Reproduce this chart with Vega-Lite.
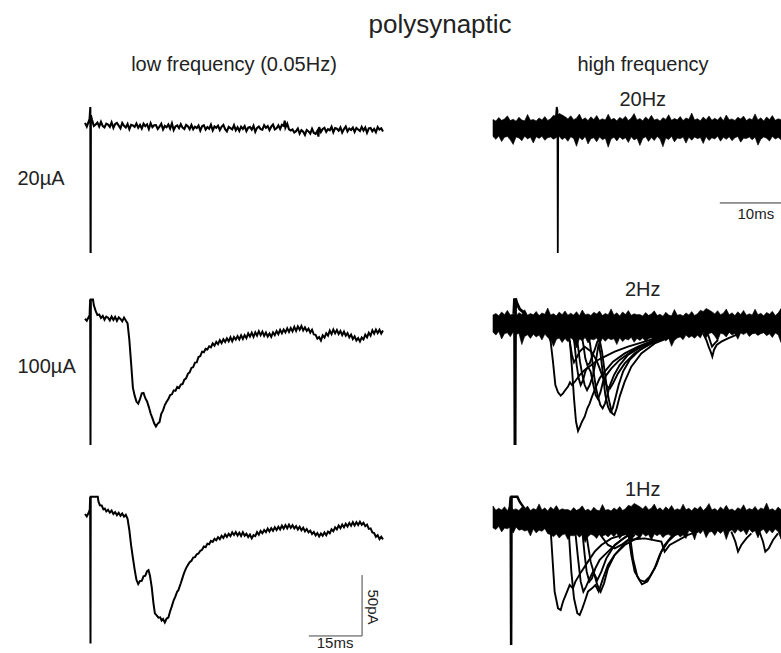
{
"$schema": "https://vega.github.io/schema/vega-lite/v6.json",
"padding": {"left": 17, "top": 12, "right": 0, "bottom": 2},
"background": "white",
"title": {"text": "polysynaptic", "anchor": "middle", "frame": "group", "offset": 17, "dx": 355, "fontSize": 26, "fontWeight": "normal", "font": "Liberation Sans", "color": "#222"},
"config": {"view": {"stroke": null}, "font": "Liberation Sans", "text": {"font": "Liberation Sans"}},
"columns": 2,
"spacing": {"row": 22, "column": 110},
"bounds": "flush",
"align": "each",
"datasets": {
"L1": [{"t":0,"v":5.7},{"t":0.5,"v":2.7},{"t":1.0,"v":6.6},{"t":1.3,"v":9},{"t":1.5,"v":18.8},{"t":1.58,"v":-101.1},{"t":1.65,"v":12},{"t":2.0,"v":8},{"t":2.5,"v":3.2},{"t":3.0,"v":4.4},{"t":3.5,"v":5.9},{"t":4.0,"v":2.8},{"t":4.5,"v":6.6},{"t":5.0,"v":3.1},{"t":5.5,"v":2.0},{"t":6.0,"v":5.1},{"t":6.5,"v":4.3},{"t":7.0,"v":2.4},{"t":7.5,"v":6.2},{"t":8.0,"v":1.6},{"t":8.5,"v":4.8},{"t":9.0,"v":5.7},{"t":9.5,"v":3.5},{"t":10.0,"v":1.3},{"t":10.5,"v":5.6},{"t":11.0,"v":3.3},{"t":11.5,"v":1.9},{"t":12.0,"v":4.8},{"t":12.5,"v":0.5},{"t":13.0,"v":4.2},{"t":13.5,"v":3.7},{"t":14.0,"v":2.4},{"t":14.5,"v":5.2},{"t":15.0,"v":1.7},{"t":15.5,"v":4.1},{"t":16.0,"v":1.1},{"t":16.5,"v":5.0},{"t":17.0,"v":3.0},{"t":17.5,"v":4.5},{"t":18.0,"v":0.7},{"t":18.5,"v":5.5},{"t":19.0,"v":2.2},{"t":19.5,"v":3.8},{"t":20.0,"v":3.9},{"t":20.5,"v":0.8},{"t":21.0,"v":2.7},{"t":21.5,"v":5.0},{"t":22.0,"v":0.3},{"t":22.5,"v":3.2},{"t":23.0,"v":2.1},{"t":23.5,"v":4.4},{"t":24.0,"v":1.1},{"t":24.5,"v":5.3},{"t":25.0,"v":-0.1},{"t":25.5,"v":2.8},{"t":26.0,"v":3.7},{"t":26.5,"v":1.4},{"t":27.0,"v":4.6},{"t":27.5,"v":1.8},{"t":28.0,"v":0.7},{"t":28.5,"v":4.0},{"t":29.0,"v":2.9},{"t":29.5,"v":0.5},{"t":30.0,"v":4.0},{"t":30.5,"v":0.5},{"t":31.0,"v":2.6},{"t":31.5,"v":1.5},{"t":32.0,"v":3.5},{"t":32.5,"v":-0.6},{"t":33.0,"v":2.9},{"t":33.5,"v":3.8},{"t":34.0,"v":0.2},{"t":34.5,"v":2.3},{"t":35.0,"v":0.9},{"t":35.5,"v":4.2},{"t":36.0,"v":-0.4},{"t":36.5,"v":2.8},{"t":37.0,"v":1.7},{"t":37.5,"v":3.4},{"t":38.0,"v":-0.1},{"t":38.5,"v":2.5},{"t":39.0,"v":4.1},{"t":39.5,"v":0.6},{"t":40.0,"v":-1.3},{"t":40.5,"v":2.5},{"t":41.0,"v":1.4},{"t":41.5,"v":0.4},{"t":42.0,"v":3.8},{"t":42.5,"v":-0.3},{"t":43.0,"v":2.1},{"t":43.5,"v":-0.9},{"t":44.0,"v":2.6},{"t":44.5,"v":0.8},{"t":45.0,"v":3.0},{"t":45.5,"v":-1.1},{"t":46.0,"v":1.8},{"t":46.5,"v":2.3},{"t":47.0,"v":0.2},{"t":47.5,"v":3.4},{"t":48.0,"v":-1.6},{"t":48.5,"v":1.6},{"t":49.0,"v":2.7},{"t":49.5,"v":0.6},{"t":50.0,"v":0.1},{"t":50.5,"v":3.8},{"t":51.0,"v":1.6},{"t":51.5,"v":3.1},{"t":52.0,"v":-0.2},{"t":52.5,"v":2.6},{"t":53.0,"v":4.3},{"t":53.5,"v":0.4},{"t":54.0,"v":1.3},{"t":54.5,"v":3.7},{"t":55.0,"v":0.8},{"t":55.5,"v":4.2},{"t":56.0,"v":3.3},{"t":56.3,"v":7.5},{"t":56.5,"v":1.9},{"t":57.0,"v":5.1},{"t":57.5,"v":0.4},{"t":58.0,"v":-0.5},{"t":58.5,"v":0.4},{"t":59.0,"v":-2.1},{"t":59.5,"v":-1.1},{"t":60.0,"v":1.1},{"t":60.5,"v":-3.0},{"t":61.0,"v":-0.2},{"t":61.5,"v":-1.5},{"t":62.0,"v":-4.2},{"t":62.5,"v":-0.1},{"t":63.0,"v":-1.3},{"t":63.5,"v":-3.1},{"t":64.0,"v":0.9},{"t":64.5,"v":-2.5},{"t":65.0,"v":-3.3},{"t":65.5,"v":-0.9},{"t":65.8,"v":-5.5},{"t":66.0,"v":2.3},{"t":66.5,"v":-1.8},{"t":67.0,"v":0.7},{"t":67.5,"v":1.7},{"t":68.0,"v":-1.6},{"t":68.5,"v":0.5},{"t":69.0,"v":-0.3},{"t":69.5,"v":2.5},{"t":70.0,"v":-2.0},{"t":70.5,"v":1.4},{"t":71.0,"v":0.9},{"t":71.5,"v":-0.7},{"t":72.0,"v":2.1},{"t":72.5,"v":-2.2},{"t":73.0,"v":0.6},{"t":73.5,"v":2.7},{"t":74.0,"v":-1.3},{"t":74.5,"v":1.1},{"t":75.0,"v":-0.1},{"t":75.5,"v":1.8},{"t":76.0,"v":-1.7},{"t":76.5,"v":1.5},{"t":77.0,"v":0.3},{"t":77.5,"v":-0.9},{"t":78.0,"v":2.4},{"t":78.5,"v":-0.5},{"t":79.0,"v":1.9},{"t":79.5,"v":-2.4},{"t":80.0,"v":1.2},{"t":80.5,"v":1.6},{"t":81.0,"v":-1.1},{"t":81.5,"v":0.8},{"t":82.0,"v":-1.9},{"t":82.5,"v":2.3},{"t":83.0,"v":0.2},{"t":83.5,"v":1.3},{"t":84.0,"v":-1.4}],
"L2": [{"t":0,"v":5.0},{"t":0.5,"v":3.4},{"t":1.0,"v":6.3},{"t":1.3,"v":8},{"t":1.45,"v":20.9},{"t":1.55,"v":-98.6},{"t":1.65,"v":20.9},{"t":2.25,"v":20.9},{"t":2.5,"v":16},{"t":3.0,"v":11.5},{"t":3.5,"v":8.0},{"t":4.0,"v":8.5},{"t":4.5,"v":5.6},{"t":5.0,"v":7.4},{"t":5.5,"v":4.2},{"t":6.0,"v":6.8},{"t":6.5,"v":5.9},{"t":7.0,"v":3.6},{"t":7.5,"v":6.9},{"t":8.0,"v":4.1},{"t":8.5,"v":6.5},{"t":9.0,"v":3.3},{"t":9.5,"v":6.2},{"t":10.0,"v":4.8},{"t":10.5,"v":2.9},{"t":11.0,"v":6.0},{"t":11.5,"v":3.5},{"t":12.0,"v":1.2},{"t":12.5,"v":-12.4},{"t":13.0,"v":-31.6},{"t":13.5,"v":-51.5},{"t":14.0,"v":-58.1},{"t":14.5,"v":-63.0},{"t":15.0,"v":-64.6},{"t":15.5,"v":-61.0},{"t":16.0,"v":-56.2},{"t":16.5,"v":-55.8},{"t":17.0,"v":-60.2},{"t":17.5,"v":-62.9},{"t":18.0,"v":-67.5},{"t":18.5,"v":-72.8},{"t":19.0,"v":-76.5},{"t":19.5,"v":-80.8},{"t":20.0,"v":-83.4},{"t":20.5,"v":-81.0},{"t":21.0,"v":-79.8},{"t":21.5,"v":-73.0},{"t":22.0,"v":-70.2},{"t":22.5,"v":-65.8},{"t":23.0,"v":-63.1},{"t":23.5,"v":-60.9},{"t":24.0,"v":-57.6},{"t":24.5,"v":-57.0},{"t":25.0,"v":-53.8},{"t":25.5,"v":-54.2},{"t":26.0,"v":-51.0},{"t":26.5,"v":-51.9},{"t":27.0,"v":-49.0},{"t":27.5,"v":-48.6},{"t":28.0,"v":-45.0},{"t":28.5,"v":-43.9},{"t":29.0,"v":-40.2},{"t":29.5,"v":-39.0},{"t":30.0,"v":-35.4},{"t":30.5,"v":-34.6},{"t":31.0,"v":-31.0},{"t":31.5,"v":-30.8},{"t":32.0,"v":-26.4},{"t":32.5,"v":-25.6},{"t":33.0,"v":-22.0},{"t":33.5,"v":-22.5},{"t":34.0,"v":-19.6},{"t":34.5,"v":-20.2},{"t":35.0,"v":-17.6},{"t":35.5,"v":-18.4},{"t":36.0,"v":-15.2},{"t":36.5,"v":-17.0},{"t":37.0,"v":-13.9},{"t":37.5,"v":-15.8},{"t":38.0,"v":-12.6},{"t":38.5,"v":-15.0},{"t":39.0,"v":-11.8},{"t":39.5,"v":-14.0},{"t":40.0,"v":-11.0},{"t":40.5,"v":-13.5},{"t":41.0,"v":-10.2},{"t":41.5,"v":-13.4},{"t":42.0,"v":-10.0},{"t":42.5,"v":-12.1},{"t":43.0,"v":-9.2},{"t":43.5,"v":-11.9},{"t":44.0,"v":-8.6},{"t":44.5,"v":-11.5},{"t":45.0,"v":-8.4},{"t":45.5,"v":-10.9},{"t":46.0,"v":-7.0},{"t":46.5,"v":-9.6},{"t":47.0,"v":-6.4},{"t":47.5,"v":-9.9},{"t":48.0,"v":-6.1},{"t":48.5,"v":-8.8},{"t":49.0,"v":-5.2},{"t":49.5,"v":-8.4},{"t":50.0,"v":-5.5},{"t":50.5,"v":-9.0},{"t":51.0,"v":-6.3},{"t":51.5,"v":-9.6},{"t":52.0,"v":-7.1},{"t":52.5,"v":-9.8},{"t":53.0,"v":-6.2},{"t":53.5,"v":-8.4},{"t":54.0,"v":-5.0},{"t":54.5,"v":-7.6},{"t":55.0,"v":-4.1},{"t":55.5,"v":-6.9},{"t":56.0,"v":-3.8},{"t":56.5,"v":-6.1},{"t":57.0,"v":-2.9},{"t":57.5,"v":-5.8},{"t":58.0,"v":-2.6},{"t":58.5,"v":-5.4},{"t":59.0,"v":-1.7},{"t":59.5,"v":-4.9},{"t":60.0,"v":-1.2},{"t":60.5,"v":-4.0},{"t":61.0,"v":-0.9},{"t":61.5,"v":-4.6},{"t":62.0,"v":-2.0},{"t":62.5,"v":-5.0},{"t":63.0,"v":-3.1},{"t":63.5,"v":-6.3},{"t":64.0,"v":-4.0},{"t":64.5,"v":-7.9},{"t":65.0,"v":-8.2},{"t":65.5,"v":-11.3},{"t":66.0,"v":-10.1},{"t":66.5,"v":-12.9},{"t":67.0,"v":-8.6},{"t":67.5,"v":-10.4},{"t":68.0,"v":-6.9},{"t":68.5,"v":-8.8},{"t":69.0,"v":-4.7},{"t":69.5,"v":-7.6},{"t":70.0,"v":-3.9},{"t":70.5,"v":-7.0},{"t":71.0,"v":-4.3},{"t":71.5,"v":-7.5},{"t":72.0,"v":-5.0},{"t":72.5,"v":-8.4},{"t":73.0,"v":-5.6},{"t":73.5,"v":-8.9},{"t":74.0,"v":-6.8},{"t":74.5,"v":-10.2},{"t":75.0,"v":-8.0},{"t":75.5,"v":-11.6},{"t":76.0,"v":-9.4},{"t":76.5,"v":-12.8},{"t":77.0,"v":-10.9},{"t":77.5,"v":-13.6},{"t":78.0,"v":-10.4},{"t":78.5,"v":-12.0},{"t":79.0,"v":-8.1},{"t":79.5,"v":-10.3},{"t":80.0,"v":-6.5},{"t":80.5,"v":-8.9},{"t":81.0,"v":-4.4},{"t":81.5,"v":-7.2},{"t":82.0,"v":-3.9},{"t":82.5,"v":-6.8},{"t":83.0,"v":-4.0},{"t":83.5,"v":-7.1},{"t":84.0,"v":-4.6}],
"L3": [{"t":0,"v":4.8},{"t":0.5,"v":2.9},{"t":1.0,"v":5.6},{"t":1.35,"v":8.5},{"t":1.45,"v":19.0},{"t":1.55,"v":-101.4},{"t":1.62,"v":19.0},{"t":2.5,"v":19.0},{"t":3.6,"v":19.0},{"t":3.8,"v":14.9},{"t":4.2,"v":12.0},{"t":4.7,"v":11.8},{"t":5.2,"v":8.6},{"t":5.6,"v":9.2},{"t":6.0,"v":6.9},{"t":6.5,"v":8.3},{"t":7.0,"v":5.9},{"t":7.5,"v":7.6},{"t":8.0,"v":4.8},{"t":8.5,"v":6.4},{"t":9.0,"v":3.9},{"t":9.5,"v":5.8},{"t":10.0,"v":3.4},{"t":10.5,"v":5.2},{"t":11.0,"v":2.6},{"t":11.5,"v":4.1},{"t":12.0,"v":0.9},{"t":12.5,"v":-8.5},{"t":13.0,"v":-21.0},{"t":13.5,"v":-31.2},{"t":14.0,"v":-40.8},{"t":14.5,"v":-49.2},{"t":15.0,"v":-52.6},{"t":15.5,"v":-50.1},{"t":16.0,"v":-50.0},{"t":16.5,"v":-46.3},{"t":17.0,"v":-45.8},{"t":17.5,"v":-42.0},{"t":17.9,"v":-41.2},{"t":18.3,"v":-45.6},{"t":18.8,"v":-55.0},{"t":19.3,"v":-68.5},{"t":19.7,"v":-76.8},{"t":20.2,"v":-78.4},{"t":20.7,"v":-80.3},{"t":21.2,"v":-80.0},{"t":21.6,"v":-82.6},{"t":22.0,"v":-81.4},{"t":22.5,"v":-84.2},{"t":23.0,"v":-81.0},{"t":23.5,"v":-80.2},{"t":24.0,"v":-75.0},{"t":24.4,"v":-71.6},{"t":25.0,"v":-66.0},{"t":25.4,"v":-63.4},{"t":26.0,"v":-58.8},{"t":26.3,"v":-57.9},{"t":27.0,"v":-52.0},{"t":27.5,"v":-47.4},{"t":28.0,"v":-43.0},{"t":28.5,"v":-39.6},{"t":29.0,"v":-37.1},{"t":29.5,"v":-34.8},{"t":30.0,"v":-33.6},{"t":30.5,"v":-31.0},{"t":31.0,"v":-30.6},{"t":31.5,"v":-28.2},{"t":32.0,"v":-27.6},{"t":32.5,"v":-25.4},{"t":33.0,"v":-24.6},{"t":33.5,"v":-21.8},{"t":34.0,"v":-22.4},{"t":34.5,"v":-19.5},{"t":35.0,"v":-20.0},{"t":35.5,"v":-17.2},{"t":36.0,"v":-18.0},{"t":36.5,"v":-15.6},{"t":37.0,"v":-16.8},{"t":37.5,"v":-14.2},{"t":38.0,"v":-15.9},{"t":38.5,"v":-13.1},{"t":39.0,"v":-14.8},{"t":39.5,"v":-11.9},{"t":40.0,"v":-14.0},{"t":40.5,"v":-11.5},{"t":41.0,"v":-13.4},{"t":41.5,"v":-10.2},{"t":42.0,"v":-12.4},{"t":42.5,"v":-10.0},{"t":43.0,"v":-12.8},{"t":43.5,"v":-10.6},{"t":44.0,"v":-13.2},{"t":44.5,"v":-10.1},{"t":45.0,"v":-13.0},{"t":45.5,"v":-11.4},{"t":46.0,"v":-14.1},{"t":46.5,"v":-12.0},{"t":47.0,"v":-15.2},{"t":47.5,"v":-12.6},{"t":48.0,"v":-13.4},{"t":48.5,"v":-10.0},{"t":49.0,"v":-12.2},{"t":49.5,"v":-9.1},{"t":50.0,"v":-11.0},{"t":50.5,"v":-8.3},{"t":51.0,"v":-10.1},{"t":51.5,"v":-7.2},{"t":52.0,"v":-9.6},{"t":52.5,"v":-6.8},{"t":53.0,"v":-9.0},{"t":53.5,"v":-6.1},{"t":54.0,"v":-8.4},{"t":54.5,"v":-5.6},{"t":55.0,"v":-7.9},{"t":55.5,"v":-4.8},{"t":56.0,"v":-7.2},{"t":56.5,"v":-4.3},{"t":57.0,"v":-6.9},{"t":57.5,"v":-4.0},{"t":58.0,"v":-6.6},{"t":58.5,"v":-4.4},{"t":59.0,"v":-7.0},{"t":59.5,"v":-5.1},{"t":60.0,"v":-7.9},{"t":60.5,"v":-5.6},{"t":61.0,"v":-8.6},{"t":61.5,"v":-6.4},{"t":62.0,"v":-9.4},{"t":62.5,"v":-7.5},{"t":63.0,"v":-10.3},{"t":63.5,"v":-8.8},{"t":64.0,"v":-11.6},{"t":64.5,"v":-10.0},{"t":65.0,"v":-12.8},{"t":65.5,"v":-10.9},{"t":66.0,"v":-13.6},{"t":66.5,"v":-11.2},{"t":67.0,"v":-13.0},{"t":67.5,"v":-10.4},{"t":68.0,"v":-12.6},{"t":68.5,"v":-9.6},{"t":69.0,"v":-11.0},{"t":69.5,"v":-7.8},{"t":70.0,"v":-9.4},{"t":70.5,"v":-6.2},{"t":71.0,"v":-7.9},{"t":71.5,"v":-4.6},{"t":72.0,"v":-6.8},{"t":72.5,"v":-3.9},{"t":73.0,"v":-6.1},{"t":73.5,"v":-3.2},{"t":74.0,"v":-5.4},{"t":74.5,"v":-2.5},{"t":75.0,"v":-4.8},{"t":75.5,"v":-1.9},{"t":76.0,"v":-4.6},{"t":76.5,"v":-2.0},{"t":77.0,"v":-4.3},{"t":77.5,"v":-1.6},{"t":78.0,"v":-4.0},{"t":78.5,"v":-2.4},{"t":79.0,"v":-5.2},{"t":79.5,"v":-3.9},{"t":80.0,"v":-7.4},{"t":80.5,"v":-7.0},{"t":81.0,"v":-10.3},{"t":81.5,"v":-10.8},{"t":82.0,"v":-13.9},{"t":82.5,"v":-12.6},{"t":83.0,"v":-15.8},{"t":83.5,"v":-13.9},{"t":84.0,"v":-16.0}],
"band": [{"t":0,"h1":8.5,"l1":-5.5,"h2":8.1,"l2":-6.0,"h3":11.4,"l3":-6.6},{"t":0.4,"h1":7.2,"l1":-7.8,"h2":9.3,"l2":-8.4,"h3":7.9,"l3":-8.0},{"t":0.8,"h1":10.1,"l1":-5.0,"h2":7.5,"l2":-5.4,"h3":9.6,"l3":-5.3},{"t":1.2,"h1":7.8,"l1":-9.6,"h2":10.6,"l2":-11.6,"h3":8.0,"l3":-9.9},{"t":1.6,"h1":9.0,"l1":-6.1,"h2":8.4,"l2":-7.2,"h3":10.8,"l3":-6.7},{"t":2.0,"h1":11.5,"l1":-5.4,"h2":11.9,"l2":-6.5,"h3":7.5,"l3":-7.3},{"t":2.4,"h1":7.6,"l1":-8.2,"h2":8.0,"l2":-9.8,"h3":12.2,"l3":-5.8},{"t":2.8,"h1":8.8,"l1":-12.0,"h2":9.0,"l2":-5.9,"h3":8.4,"l3":-10.9},{"t":3.2,"h1":7.1,"l1":-5.8,"h2":7.2,"l2":-8.1,"h3":9.0,"l3":-6.0},{"t":3.6,"h1":10.4,"l1":-6.6,"h2":10.0,"l2":-6.8,"h3":7.7,"l3":-8.5},{"t":4.0,"h1":8.0,"l1":-9.0,"h2":8.6,"l2":-16.2,"h3":10.3,"l3":-7.9},{"t":4.4,"h1":7.4,"l1":-5.2,"h2":12.4,"l2":-9.5,"h3":8.9,"l3":-9.2},{"t":4.8,"h1":12.6,"l1":-7.4,"h2":7.8,"l2":-8.1,"h3":11.3,"l3":-8.3},{"t":5.2,"h1":7.9,"l1":-6.0,"h2":9.4,"l2":-11.1,"h3":7.6,"l3":-13.2},{"t":5.6,"h1":8.6,"l1":-10.8,"h2":8.2,"l2":-7.8,"h3":9.4,"l3":-7.6},{"t":6.0,"h1":7.3,"l1":-5.6,"h2":11.0,"l2":-9.9,"h3":8.2,"l3":-10.7},{"t":6.4,"h1":9.8,"l1":-7.0,"h2":7.6,"l2":-8.4,"h3":13.1,"l3":-8.5},{"t":6.8,"h1":8.1,"l1":-5.3,"h2":9.8,"l2":-12.4,"h3":8.0,"l3":-9.4},{"t":7.2,"h1":10.9,"l1":-8.6,"h2":8.7,"l2":-7.6,"h3":9.9,"l3":-7.2},{"t":7.6,"h1":7.7,"l1":-6.4,"h2":13.8,"l2":-10.3,"h3":7.3,"l3":-11.3},{"t":8.0,"h1":9.2,"l1":-5.9,"h2":8.1,"l2":-11.9,"h3":10.6,"l3":-12.1},{"t":8.4,"h1":12.0,"l1":-7.7,"h2":9.2,"l2":-17.8,"h3":8.5,"l3":-13.8},{"t":8.8,"h1":11.0,"l1":-6.2,"h2":7.4,"l2":-12.0,"h3":11.7,"l3":-11.7},{"t":9.2,"h1":13.5,"l1":-5.5,"h2":10.5,"l2":-10.7,"h3":7.8,"l3":-14.9},{"t":9.6,"h1":12.2,"l1":-8.0,"h2":8.3,"l2":-14.5,"h3":9.1,"l3":-12.4},{"t":10.0,"h1":10.8,"l1":-6.3,"h2":11.4,"l2":-11.2,"h3":8.4,"l3":-11.5},{"t":10.4,"h1":9.0,"l1":-9.4,"h2":7.9,"l2":-13.8,"h3":8.5,"l3":-16.1},{"t":10.8,"h1":11.6,"l1":-5.7,"h2":9.6,"l2":-10.5,"h3":7.2,"l3":-12.8},{"t":11.2,"h1":8.4,"l1":-7.1,"h2":8.0,"l2":-12.6,"h3":10.1,"l3":-13.1},{"t":11.6,"h1":9.6,"l1":-13.5,"h2":10.8,"l2":-18.9,"h3":7.8,"l3":-11.9},{"t":12.0,"h1":13.0,"l1":-6.0,"h2":7.5,"l2":-11.6,"h3":9.0,"l3":-14.2},{"t":12.4,"h1":8.2,"l1":-8.4,"h2":12.2,"l2":-13.0,"h3":11.5,"l3":-12.0},{"t":12.8,"h1":9.9,"l1":-5.4,"h2":8.4,"l2":-10.3,"h3":7.6,"l3":-18.6},{"t":13.2,"h1":7.6,"l1":-11.6,"h2":9.0,"l2":-14.9,"h3":8.8,"l3":-13.7},{"t":13.6,"h1":10.7,"l1":-7.2,"h2":7.7,"l2":-11.7,"h3":7.1,"l3":-11.8},{"t":14.0,"h1":8.5,"l1":-6.5,"h2":10.3,"l2":-12.3,"h3":10.4,"l3":-12.9},{"t":14.4,"h1":11.8,"l1":-9.8,"h2":8.9,"l2":-10.8,"h3":8.0,"l3":-15.2},{"t":14.8,"h1":7.9,"l1":-5.9,"h2":11.3,"l2":-15.9,"h3":7.4,"l3":-11.4},{"t":15.2,"h1":9.1,"l1":-8.1,"h2":7.6,"l2":-11.0,"h3":12.6,"l3":-13.5},{"t":15.6,"h1":8.0,"l1":-6.8,"h2":9.4,"l2":-13.5,"h3":7.9,"l3":-12.2},{"t":16.0,"h1":12.9,"l1":-14.2,"h2":8.2,"l2":-10.9,"h3":8.6,"l3":-14.0},{"t":16.4,"h1":8.3,"l1":-7.5,"h2":13.1,"l2":-12.2,"h3":7.3,"l3":-11.5},{"t":16.8,"h1":9.5,"l1":-6.1,"h2":8.0,"l2":-11.3,"h3":9.8,"l3":-13.8},{"t":17.2,"h1":7.4,"l1":-9.1,"h2":9.9,"l2":-16.2,"h3":8.1,"l3":-11.0},{"t":17.6,"h1":10.2,"l1":-5.8,"h2":7.3,"l2":-10.6,"h3":10.9,"l3":-15.6},{"t":18.0,"h1":8.8,"l1":-7.9,"h2":10.6,"l2":-13.7,"h3":7.7,"l3":-12.1},{"t":18.4,"h1":11.1,"l1":-6.4,"h2":8.5,"l2":-11.5,"h3":9.2,"l3":-11.4},{"t":18.8,"h1":7.7,"l1":-10.4,"h2":11.7,"l2":-12.4,"h3":12.0,"l3":-14.2},{"t":19.2,"h1":9.7,"l1":-5.6,"h2":7.8,"l2":-10.2,"h3":11.0,"l3":-18.0},{"t":19.6,"h1":13.4,"l1":-8.3,"h2":9.1,"l2":-14.3,"h3":13.5,"l3":-11.8},{"t":20.0,"h1":8.1,"l1":-6.9,"h2":8.4,"l2":-11.1,"h3":12.2,"l3":-12.6},{"t":20.4,"h1":9.3,"l1":-12.8,"h2":8.5,"l2":-12.8,"h3":10.8,"l3":-15.0},{"t":20.8,"h1":7.5,"l1":-7.0,"h2":7.2,"l2":-10.7,"h3":9.0,"l3":-11.2},{"t":21.2,"h1":10.6,"l1":-5.7,"h2":10.1,"l2":-13.9,"h3":11.6,"l3":-13.4},{"t":21.6,"h1":8.4,"l1":-9.5,"h2":7.8,"l2":-11.4,"h3":8.4,"l3":-12.0},{"t":22.0,"h1":11.9,"l1":-6.2,"h2":9.0,"l2":-10.5,"h3":9.6,"l3":-16.8},{"t":22.4,"h1":8.0,"l1":-8.8,"h2":11.5,"l2":-15.1,"h3":13.0,"l3":-11.6},{"t":22.8,"h1":9.0,"l1":-5.5,"h2":7.6,"l2":-11.8,"h3":8.2,"l3":-13.0},{"t":23.2,"h1":7.2,"l1":-7.6,"h2":8.8,"l2":-12.1,"h3":9.9,"l3":-11.3},{"t":23.6,"h1":10.0,"l1":-13.9,"h2":7.1,"l2":-10.9,"h3":7.6,"l3":-14.6},{"t":24.0,"h1":8.6,"l1":-6.6,"h2":10.4,"l2":-13.2,"h3":10.7,"l3":-12.4},{"t":24.4,"h1":12.4,"l1":-8.0,"h2":8.0,"l2":-11.0,"h3":8.5,"l3":-11.9},{"t":24.8,"h1":7.8,"l1":-5.3,"h2":7.4,"l2":-17.6,"h3":11.8,"l3":-13.7},{"t":25.2,"h1":9.4,"l1":-9.9,"h2":12.6,"l2":-12.7,"h3":7.9,"l3":-12.2},{"t":25.6,"h1":8.2,"l1":-6.7,"h2":7.9,"l2":-10.8,"h3":9.1,"l3":-11.5},{"t":26.0,"h1":11.0,"l1":-7.3,"h2":8.6,"l2":-9.9,"h3":8.0,"l3":-14.0},{"t":26.4,"h1":7.6,"l1":-5.8,"h2":7.3,"l2":-12.2,"h3":12.9,"l3":-12.3},{"t":26.8,"h1":9.8,"l1":-10.9,"h2":9.8,"l2":-8.4,"h3":8.3,"l3":-15.4},{"t":27.2,"h1":8.7,"l1":-6.0,"h2":8.1,"l2":-10.5,"h3":9.5,"l3":-8.7},{"t":27.6,"h1":13.8,"l1":-8.5,"h2":10.9,"l2":-9.2,"h3":7.4,"l3":-10.1},{"t":28.0,"h1":8.1,"l1":-5.9,"h2":7.7,"l2":-11.0,"h3":10.2,"l3":-16.5},{"t":28.4,"h1":9.2,"l1":-7.2,"h2":9.2,"l2":-8.5,"h3":8.8,"l3":-9.0},{"t":28.8,"h1":7.4,"l1":-6.3,"h2":12.0,"l2":-10.8,"h3":11.1,"l3":-11.4},{"t":29.2,"h1":10.5,"l1":-11.2,"h2":11.0,"l2":-6.0,"h3":7.7,"l3":-8.4},{"t":29.6,"h1":8.3,"l1":-5.6,"h2":13.5,"l2":-10.6,"h3":9.7,"l3":-14.6},{"t":30.0,"h1":11.4,"l1":-8.7,"h2":12.2,"l2":-7.1,"h3":13.4,"l3":-10.2},{"t":30.4,"h1":7.9,"l1":-6.5,"h2":10.8,"l2":-6.4,"h3":8.1,"l3":-9.5},{"t":30.8,"h1":9.6,"l1":-7.4,"h2":9.0,"l2":-9.2,"h3":9.3,"l3":-12.8},{"t":31.2,"h1":8.0,"l1":-5.2,"h2":11.6,"l2":-13.0,"h3":7.5,"l3":-8.9},{"t":31.6,"h1":10.8,"l1":-9.3,"h2":8.4,"l2":-6.8,"h3":10.6,"l3":-11.1},{"t":32.0,"h1":7.5,"l1":-6.1,"h2":9.6,"l2":-7.6,"h3":8.4,"l3":-8.8},{"t":32.4,"h1":12.2,"l1":-7.8,"h2":13.0,"l2":-10.0,"h3":11.9,"l3":-16.2},{"t":32.8,"h1":8.4,"l1":-5.7,"h2":8.2,"l2":-6.2,"h3":8.0,"l3":-9.5},{"t":33.2,"h1":9.0,"l1":-8.9,"h2":9.9,"l2":-8.4,"h3":9.0,"l3":-8.1},{"t":33.6,"h1":7.7,"l1":-6.4,"h2":7.6,"l2":-7.0,"h3":7.2,"l3":-11.1},{"t":34.0,"h1":10.3,"l1":-5.5,"h2":10.7,"l2":-11.8,"h3":10.0,"l3":-7.8},{"t":34.4,"h1":8.9,"l1":-10.1,"h2":8.5,"l2":-6.6,"h3":8.6,"l3":-9.9},{"t":34.8,"h1":11.3,"l1":-6.8,"h2":11.8,"l2":-8.0,"h3":12.4,"l3":-8.4},{"t":35.2,"h1":7.6,"l1":-7.1,"h2":7.9,"l2":-6.3,"h3":7.8,"l3":-12.4},{"t":35.6,"h1":9.4,"l1":-5.9,"h2":9.1,"l2":-9.6,"h3":9.4,"l3":-7.6},{"t":36.0,"h1":8.2,"l1":-8.2,"h2":8.0,"l2":-7.4,"h3":8.2,"l3":-10.3},{"t":36.4,"h1":13.1,"l1":-6.0,"h2":12.9,"l2":-6.9,"h3":11.0,"l3":-8.9},{"t":36.8,"h1":8.0,"l1":-12.6,"h2":8.3,"l2":-8.7,"h3":7.6,"l3":-14.8},{"t":37.2,"h1":9.9,"l1":-7.7,"h2":9.5,"l2":-7.2,"h3":9.8,"l3":-9.0},{"t":37.6,"h1":7.3,"l1":-5.8,"h2":7.4,"l2":-6.5,"h3":8.7,"l3":-7.7},{"t":38.0,"h1":10.6,"l1":-6.9,"h2":10.2,"l2":-9.0,"h3":13.8,"l3":-11.5},{"t":38.4,"h1":8.5,"l1":-9.2,"h2":8.8,"l2":-7.3,"h3":8.1,"l3":-8.2},{"t":38.8,"h1":11.7,"l1":-5.4,"h2":11.1,"l2":-10.4,"h3":9.2,"l3":-10.8},{"t":39.2,"h1":7.8,"l1":-7.5,"h2":7.7,"l2":-6.7,"h3":7.4,"l3":-7.5},{"t":39.6,"h1":9.1,"l1":-6.2,"h2":9.7,"l2":-8.1,"h3":10.5,"l3":-9.6},{"t":40.0,"h1":8.4,"l1":-8.0,"h2":13.4,"l2":-14.5,"h3":8.3,"l3":-15.9}],
"E2": [{"k":"a","t":7.64,"v":-7.0},{"k":"a","t":8.01,"v":-13.8},{"k":"a","t":8.33,"v":-30.2},{"k":"a","t":8.66,"v":-49.4},{"k":"a","t":9.03,"v":-55.4},{"k":"a","t":9.40,"v":-58.1},{"k":"a","t":9.72,"v":-56.2},{"k":"a","t":10.05,"v":-53.5},{"k":"a","t":10.42,"v":-50.7},{"k":"a","t":10.69,"v":-47.2},{"k":"a","t":10.97,"v":-49.4},{"k":"a","t":11.44,"v":-46.1},{"k":"a","t":12.04,"v":-41.2},{"k":"a","t":12.73,"v":-37.1},{"k":"a","t":13.66,"v":-33.0},{"k":"a","t":14.58,"v":-28.8},{"k":"a","t":15.51,"v":-26.1},{"k":"a","t":16.90,"v":-22.0},{"k":"a","t":18.75,"v":-17.9},{"k":"a","t":21.06,"v":-13.8},{"k":"a","t":23.38,"v":-9.7},{"k":"a","t":25.23,"v":-7.8},
{"k":"b","t":10.42,"v":-7.0},{"k":"b","t":10.69,"v":-13.8},{"k":"b","t":10.97,"v":-35.7},{"k":"b","t":11.25,"v":-60.3},{"k":"b","t":11.53,"v":-79.5},{"k":"b","t":11.81,"v":-87.1},{"k":"b","t":12.08,"v":-83.6},{"k":"b","t":12.36,"v":-79.5},{"k":"b","t":12.73,"v":-75.4},{"k":"b","t":13.10,"v":-68.5},{"k":"b","t":13.43,"v":-64.4},{"k":"b","t":13.75,"v":-58.9},{"k":"b","t":14.03,"v":-54.8},{"k":"b","t":14.40,"v":-49.4},{"k":"b","t":14.81,"v":-43.9},{"k":"b","t":15.51,"v":-38.4},{"k":"b","t":16.67,"v":-30.2},{"k":"b","t":18.29,"v":-23.4},{"k":"b","t":20.14,"v":-17.9},{"k":"b","t":22.45,"v":-12.4},{"k":"b","t":24.77,"v":-8.3},
{"k":"c","t":11.11,"v":-7.0},{"k":"c","t":11.34,"v":-16.5},{"k":"c","t":11.62,"v":-33.0},{"k":"c","t":11.90,"v":-43.9},{"k":"c","t":12.18,"v":-49.4},{"k":"c","t":12.50,"v":-45.3},{"k":"c","t":12.82,"v":-38.4},{"k":"c","t":13.19,"v":-34.3},{"k":"c","t":13.56,"v":-38.4},{"k":"c","t":13.94,"v":-49.4},{"k":"c","t":14.26,"v":-57.6},{"k":"c","t":14.58,"v":-60.9},{"k":"c","t":14.95,"v":-54.8},{"k":"c","t":15.28,"v":-46.6},{"k":"c","t":15.74,"v":-41.2},{"k":"c","t":16.44,"v":-35.7},{"k":"c","t":17.59,"v":-28.8},{"k":"c","t":19.21,"v":-22.0},{"k":"c","t":21.53,"v":-15.2},{"k":"c","t":23.84,"v":-9.7},
{"k":"d","t":11.57,"v":-7.0},{"k":"d","t":11.81,"v":-17.9},{"k":"d","t":12.08,"v":-30.2},{"k":"d","t":12.41,"v":-41.2},{"k":"d","t":12.73,"v":-49.4},{"k":"d","t":13.06,"v":-53.5},{"k":"d","t":13.43,"v":-49.4},{"k":"d","t":13.89,"v":-41.2},{"k":"d","t":14.35,"v":-27.5},{"k":"d","t":14.68,"v":-15.2},{"k":"d","t":14.95,"v":-24.7},{"k":"d","t":15.28,"v":-41.2},{"k":"d","t":15.60,"v":-57.6},{"k":"d","t":15.97,"v":-67.1},{"k":"d","t":16.30,"v":-71.3},{"k":"d","t":16.62,"v":-68.5},{"k":"d","t":16.99,"v":-60.3},{"k":"d","t":17.45,"v":-49.4},{"k":"d","t":18.06,"v":-38.4},{"k":"d","t":18.98,"v":-28.8},{"k":"d","t":20.37,"v":-20.6},{"k":"d","t":22.45,"v":-13.8},{"k":"d","t":24.77,"v":-9.7},
{"k":"e","t":12.27,"v":-7.0},{"k":"e","t":12.55,"v":-16.5},{"k":"e","t":12.82,"v":-27.5},{"k":"e","t":13.10,"v":-33.0},{"k":"e","t":13.43,"v":-31.6},{"k":"e","t":13.75,"v":-26.1},{"k":"e","t":14.12,"v":-20.6},{"k":"e","t":14.49,"v":-13.8},{"k":"e","t":14.81,"v":-12.4},{"k":"e","t":15.14,"v":-22.0},{"k":"e","t":15.51,"v":-38.4},{"k":"e","t":15.88,"v":-54.8},{"k":"e","t":16.20,"v":-64.4},{"k":"e","t":16.53,"v":-72.6},{"k":"e","t":16.85,"v":-74.0},{"k":"e","t":17.18,"v":-68.5},{"k":"e","t":17.59,"v":-58.9},{"k":"e","t":18.29,"v":-46.6},{"k":"e","t":19.21,"v":-34.3},{"k":"e","t":20.60,"v":-23.4},{"k":"e","t":22.45,"v":-15.2},{"k":"e","t":24.77,"v":-9.7},
{"k":"f","t":13.19,"v":-7.0},{"k":"f","t":13.47,"v":-15.2},{"k":"f","t":13.75,"v":-27.5},{"k":"f","t":14.03,"v":-41.2},{"k":"f","t":14.31,"v":-52.1},{"k":"f","t":14.58,"v":-58.9},{"k":"f","t":14.91,"v":-65.8},{"k":"f","t":15.23,"v":-68.5},{"k":"f","t":15.56,"v":-64.4},{"k":"f","t":15.88,"v":-57.6},{"k":"f","t":16.25,"v":-49.4},{"k":"f","t":16.81,"v":-41.2},{"k":"f","t":17.59,"v":-33.0},{"k":"f","t":18.75,"v":-24.7},{"k":"f","t":20.60,"v":-17.9},{"k":"f","t":22.92,"v":-12.4},{"k":"f","t":25.23,"v":-8.9},
{"k":"g","t":10.42,"v":-7.0},{"k":"g","t":10.69,"v":-15.2},{"k":"g","t":10.97,"v":-24.7},{"k":"g","t":11.25,"v":-30.8},{"k":"g","t":11.57,"v":-27.5},{"k":"g","t":12.04,"v":-22.0},{"k":"g","t":12.73,"v":-17.9},{"k":"g","t":13.66,"v":-22.0},{"k":"g","t":14.35,"v":-28.8},{"k":"g","t":14.81,"v":-35.7},{"k":"g","t":15.14,"v":-41.2},{"k":"g","t":15.51,"v":-46.6},{"k":"g","t":15.88,"v":-50.7},{"k":"g","t":16.25,"v":-52.1},{"k":"g","t":16.67,"v":-48.0},{"k":"g","t":17.36,"v":-39.8},{"k":"g","t":18.29,"v":-31.6},{"k":"g","t":19.68,"v":-23.4},{"k":"g","t":21.53,"v":-16.5},{"k":"g","t":23.84,"v":-11.1},
{"k":"h","t":29.17,"v":-7.0},{"k":"h","t":29.63,"v":-12.4},{"k":"h","t":29.95,"v":-17.9},{"k":"h","t":30.23,"v":-22.0},{"k":"h","t":30.46,"v":-26.1},{"k":"h","t":30.69,"v":-20.6},{"k":"h","t":31.06,"v":-16.5},{"k":"h","t":31.71,"v":-13.8},{"k":"h","t":32.64,"v":-11.1},{"k":"h","t":33.80,"v":-8.3},
{"k":"i","t":29.86,"v":-7.8},{"k":"i","t":30.19,"v":-13.8},{"k":"i","t":30.42,"v":-17.9},{"k":"i","t":30.79,"v":-15.2},{"k":"i","t":31.25,"v":-12.4}],
"E3": [{"k":"a","t":8.01,"v":-8.3},{"k":"a","t":8.56,"v":-58.9},{"k":"a","t":9.03,"v":-72.6},{"k":"a","t":9.40,"v":-74.0},{"k":"a","t":9.72,"v":-67.2},{"k":"a","t":10.19,"v":-60.3},{"k":"a","t":10.65,"v":-53.5},{"k":"a","t":11.11,"v":-56.2},{"k":"a","t":11.44,"v":-50.7},{"k":"a","t":12.27,"v":-42.5},{"k":"a","t":13.19,"v":-34.3},{"k":"a","t":14.12,"v":-26.1},{"k":"a","t":15.05,"v":-20.6},{"k":"a","t":16.44,"v":-15.2},{"k":"a","t":18.75,"v":-11.1},
{"k":"b","t":10.51,"v":-8.3},{"k":"b","t":10.88,"v":-42.5},{"k":"b","t":11.25,"v":-64.4},{"k":"b","t":11.71,"v":-76.7},{"k":"b","t":12.04,"v":-78.1},{"k":"b","t":12.41,"v":-72.6},{"k":"b","t":12.73,"v":-67.2},{"k":"b","t":13.19,"v":-58.9},{"k":"b","t":13.75,"v":-56.2},{"k":"b","t":14.21,"v":-53.5},{"k":"b","t":14.68,"v":-58.9},{"k":"b","t":15.28,"v":-48.0},{"k":"b","t":15.97,"v":-37.1},{"k":"b","t":16.90,"v":-28.8},{"k":"b","t":18.29,"v":-20.6},{"k":"b","t":20.37,"v":-13.8},
{"k":"c","t":11.44,"v":-10.2},{"k":"c","t":11.81,"v":-31.6},{"k":"c","t":12.18,"v":-50.7},{"k":"c","t":12.55,"v":-58.9},{"k":"c","t":12.92,"v":-54.8},{"k":"c","t":13.43,"v":-48.0},{"k":"c","t":13.89,"v":-42.5},{"k":"c","t":14.49,"v":-49.4},{"k":"c","t":15.05,"v":-42.5},{"k":"c","t":15.74,"v":-31.6},{"k":"c","t":16.90,"v":-20.6},{"k":"c","t":18.75,"v":-12.4},
{"k":"d","t":12.41,"v":-9.7},{"k":"d","t":12.73,"v":-28.8},{"k":"d","t":13.01,"v":-42.5},{"k":"d","t":13.38,"v":-50.7},{"k":"d","t":13.75,"v":-48.0},{"k":"d","t":14.21,"v":-39.8},{"k":"d","t":14.81,"v":-32.9},{"k":"d","t":15.51,"v":-28.8},{"k":"d","t":16.44,"v":-23.4},{"k":"d","t":17.82,"v":-16.5},{"k":"d","t":19.21,"v":-11.1},
{"k":"e","t":12.92,"v":-9.7},{"k":"e","t":13.19,"v":-20.6},{"k":"e","t":13.56,"v":-34.3},{"k":"e","t":14.03,"v":-43.9},{"k":"e","t":14.49,"v":-53.5},{"k":"e","t":14.95,"v":-58.9},{"k":"e","t":15.42,"v":-52.1},{"k":"e","t":15.97,"v":-39.8},{"k":"e","t":16.90,"v":-28.8},{"k":"e","t":18.29,"v":-19.3},{"k":"e","t":19.68,"v":-12.4},
{"k":"f","t":18.75,"v":-9.7},{"k":"f","t":19.21,"v":-28.8},{"k":"f","t":19.68,"v":-42.5},{"k":"f","t":20.37,"v":-49.4},{"k":"f","t":21.06,"v":-50.7},{"k":"f","t":21.76,"v":-46.6},{"k":"f","t":22.45,"v":-39.8},{"k":"f","t":23.15,"v":-28.8},{"k":"f","t":23.84,"v":-20.6},{"k":"f","t":24.77,"v":-13.8},{"k":"f","t":26.16,"v":-10.2},
{"k":"g","t":18.98,"v":-11.1},{"k":"g","t":19.44,"v":-31.6},{"k":"g","t":20.05,"v":-46.6},{"k":"g","t":20.69,"v":-52.9},{"k":"g","t":21.44,"v":-50.7},{"k":"g","t":22.08,"v":-43.9},{"k":"g","t":22.69,"v":-37.1},{"k":"g","t":23.38,"v":-26.1},{"k":"g","t":24.31,"v":-17.9},{"k":"g","t":25.5,"v":-11.0},
{"k":"h","t":14.58,"v":-9.7},{"k":"h","t":15.97,"v":-20.6},{"k":"h","t":16.90,"v":-23.4},{"k":"h","t":17.82,"v":-20.6},{"k":"h","t":18.75,"v":-16.5},{"k":"h","t":21.06,"v":-15.2},{"k":"h","t":23.38,"v":-17.9},{"k":"h","t":23.84,"v":-26.1},{"k":"h","t":24.54,"v":-20.6},{"k":"h","t":27.08,"v":-12.4},{"k":"h","t":28.5,"v":-9.7},
{"k":"i","t":33.10,"v":-9.7},{"k":"i","t":33.66,"v":-17.9},{"k":"i","t":34.03,"v":-26.1},{"k":"i","t":34.49,"v":-20.6},{"k":"i","t":35.19,"v":-15.2},{"k":"i","t":35.88,"v":-11.1},
{"k":"j","t":37.04,"v":-10.2},{"k":"j","t":37.50,"v":-17.9},{"k":"j","t":37.82,"v":-26.1},{"k":"j","t":38.29,"v":-23.4},{"k":"j","t":38.89,"v":-16.5},{"k":"j","t":39.58,"v":-11.1}]
},
"concat": [
{
"width": 298, "height": 173,
"title": {"text": "low frequency (0.05Hz)", "fontSize": 20, "fontWeight": "normal", "offset": 11, "frame": "group", "color": "#222", "font": "Liberation Sans"},
"layer": [
{"data": {"name": "L1"}, "mark": {"type": "line", "color": "#000", "strokeWidth": 2.1},
"encoding": {"x": {"field": "t", "type": "quantitative", "scale": {"domain": [0, 84], "nice": false, "zero": false}, "axis": null},
"y": {"field": "v", "type": "quantitative", "scale": {"domain": [-106, 36], "nice": false, "zero": false},
"axis": {"title": "20µA", "titleAngle": 0, "titleAlign": "left", "titleBaseline": "middle", "titleX": -68, "titleY": 92, "titleFontSize": 20, "titleFontWeight": "normal", "titleColor": "#222", "titleFont": "Liberation Sans", "domain": false, "ticks": false, "labels": false, "grid": false}}}}
]
},
{
"width": 288, "height": 173,
"title": {"text": "high frequency", "fontSize": 20, "fontWeight": "normal", "offset": 11, "frame": "group", "dx": 6, "color": "#222", "font": "Liberation Sans"},
"layer": [
{"data": {"name": "band"}, "mark": {"type": "area", "color": "#000", "stroke": "#000", "strokeWidth": 0.6},
"encoding": {"x": {"field": "t", "type": "quantitative", "scale": {"domain": [0, 40], "nice": false, "zero": false}, "axis": null},
"y": {"field": "h1", "type": "quantitative", "scale": {"domain": [-106, 36], "nice": false, "zero": false}, "axis": null},
"y2": {"field": "l1"}}},
{"data": {"values": [{"t":8.7,"v":8},{"t":8.85,"v":18.8},{"t":8.95,"v":16},{"t":9.0,"v":-101.1},{"t":9.06,"v":12},{"t":9.5,"v":11.5},{"t":10.2,"v":9}]},
"mark": {"type": "line", "color": "#000", "strokeWidth": 1.8},
"encoding": {"x": {"field": "t", "type": "quantitative", "scale": {"domain": [0, 40], "nice": false, "zero": false}, "axis": null},
"y": {"field": "v", "type": "quantitative", "scale": {"domain": [-106, 36], "nice": false, "zero": false}, "axis": null}}},
{"data": {"values": [{"t": 31.5, "t2": 41.5, "v": -60.0}]},
"mark": {"type": "rule", "color": "#333", "strokeWidth": 1, "clip": true},
"encoding": {"x": {"field": "t", "type": "quantitative", "scale": {"domain": [0, 40], "nice": false, "zero": false}, "axis": null}, "x2": {"field": "t2"},
"y": {"field": "v", "type": "quantitative", "scale": {"domain": [-106, 36], "nice": false, "zero": false}, "axis": null}}},
{"data": {"values": [{"t": 36.5, "v": -69.1, "label": "10ms"}, {"t": 20.8, "v": 24.5, "label": "20Hz", "big": 1}]},
"mark": {"type": "text", "color": "#222", "baseline": "middle", "align": "center", "font": "Liberation Sans"},
"encoding": {"x": {"field": "t", "type": "quantitative", "scale": {"domain": [0, 40], "nice": false, "zero": false}, "axis": null},
"y": {"field": "v", "type": "quantitative", "scale": {"domain": [-106, 36], "nice": false, "zero": false}, "axis": null},
"text": {"field": "label"},
"size": {"condition": {"test": "datum.big === 1", "value": 20}, "value": 15}}}
]
},
{
"width": 298, "height": 173,
"layer": [
{"data": {"name": "L2"}, "mark": {"type": "line", "color": "#000", "strokeWidth": 2.0},
"encoding": {"x": {"field": "t", "type": "quantitative", "scale": {"domain": [0, 84], "nice": false, "zero": false}, "axis": null},
"y": {"field": "v", "type": "quantitative", "scale": {"domain": [-106, 36], "nice": false, "zero": false},
"axis": {"title": "100µA", "titleAngle": 0, "titleAlign": "left", "titleBaseline": "middle", "titleX": -68, "titleY": 85, "titleFontSize": 20, "titleFontWeight": "normal", "titleColor": "#222", "titleFont": "Liberation Sans", "domain": false, "ticks": false, "labels": false, "grid": false}}}}
]
},
{
"width": 288, "height": 173,
"layer": [
{"data": {"name": "band"}, "mark": {"type": "area", "color": "#000", "stroke": "#000", "strokeWidth": 0.6},
"encoding": {"x": {"field": "t", "type": "quantitative", "scale": {"domain": [0, 40], "nice": false, "zero": false}, "axis": null},
"y": {"field": "h2", "type": "quantitative", "scale": {"domain": [-106, 36], "nice": false, "zero": false}, "axis": null},
"y2": {"field": "l2"}}},
{"data": {"name": "E2"}, "mark": {"type": "line", "color": "#000", "strokeWidth": 1.9},
"encoding": {"x": {"field": "t", "type": "quantitative", "scale": {"domain": [0, 40], "nice": false, "zero": false}, "axis": null},
"y": {"field": "v", "type": "quantitative", "scale": {"domain": [-106, 36], "nice": false, "zero": false}, "axis": null},
"detail": {"field": "k"}}},
{"data": {"values": [{"t":2.9,"v":9},{"t":3.0,"v":21.8},{"t":3.06,"v":-98.6},{"t":3.12,"v":21.8},{"t":3.3,"v":18},{"t":3.7,"v":13},{"t":4.3,"v":10}]},
"mark": {"type": "line", "color": "#000", "strokeWidth": 3},
"encoding": {"x": {"field": "t", "type": "quantitative", "scale": {"domain": [0, 40], "nice": false, "zero": false}, "axis": null},
"y": {"field": "v", "type": "quantitative", "scale": {"domain": [-106, 36], "nice": false, "zero": false}, "axis": null}}},
{"data": {"values": [{"t": 20.8, "v": 28.6, "label": "2Hz"}]},
"mark": {"type": "text", "color": "#222", "baseline": "middle", "align": "center", "fontSize": 20, "font": "Liberation Sans"},
"encoding": {"x": {"field": "t", "type": "quantitative", "scale": {"domain": [0, 40], "nice": false, "zero": false}, "axis": null},
"y": {"field": "v", "type": "quantitative", "scale": {"domain": [-106, 36], "nice": false, "zero": false}, "axis": null},
"text": {"field": "label"}}}
]
},
{
"width": 298, "height": 173,
"layer": [
{"data": {"name": "L3"}, "mark": {"type": "line", "color": "#000", "strokeWidth": 2.0},
"encoding": {"x": {"field": "t", "type": "quantitative", "scale": {"domain": [0, 84], "nice": false, "zero": false}, "axis": null},
"y": {"field": "v", "type": "quantitative", "scale": {"domain": [-106, 36], "nice": false, "zero": false},
"axis": {"title": "500µA", "titleAngle": 0, "titleAlign": "left", "titleBaseline": "middle", "titleX": -68, "titleY": 88, "titleFontSize": 20, "titleFontWeight": "normal", "titleColor": "#222", "titleFont": "Liberation Sans", "domain": false, "ticks": false, "labels": false, "grid": false}}}},
{"data": {"values": [{"t": 63.1, "t2": 78.1, "v": -95.3, "v2": -95.3}, {"t": 78.1, "t2": 78.1, "v": -45.3, "v2": -95.3}]},
"mark": {"type": "rule", "color": "#444", "strokeWidth": 1},
"encoding": {"x": {"field": "t", "type": "quantitative", "scale": {"domain": [0, 84], "nice": false, "zero": false}, "axis": null}, "x2": {"field": "t2"},
"y": {"field": "v", "type": "quantitative", "scale": {"domain": [-106, 36], "nice": false, "zero": false}, "axis": null}, "y2": {"field": "v2"}}},
{"data": {"values": [{"t": 70.5, "v": -101.1, "label": "15ms"}]},
"mark": {"type": "text", "color": "#222", "baseline": "middle", "align": "center", "fontSize": 15, "font": "Liberation Sans"},
"encoding": {"x": {"field": "t", "type": "quantitative", "scale": {"domain": [0, 84], "nice": false, "zero": false}, "axis": null},
"y": {"field": "v", "type": "quantitative", "scale": {"domain": [-106, 36], "nice": false, "zero": false}, "axis": null},
"text": {"field": "label"}}},
{"data": {"values": [{"t": 81.2, "v": -71.5, "label": "50pA"}]},
"mark": {"type": "text", "color": "#222", "baseline": "middle", "align": "center", "fontSize": 15, "angle": 90, "font": "Liberation Sans"},
"encoding": {"x": {"field": "t", "type": "quantitative", "scale": {"domain": [0, 84], "nice": false, "zero": false}, "axis": null},
"y": {"field": "v", "type": "quantitative", "scale": {"domain": [-106, 36], "nice": false, "zero": false}, "axis": null},
"text": {"field": "label"}}}
]
},
{
"width": 288, "height": 173,
"layer": [
{"data": {"name": "band"}, "mark": {"type": "area", "color": "#000", "stroke": "#000", "strokeWidth": 0.6},
"encoding": {"x": {"field": "t", "type": "quantitative", "scale": {"domain": [0, 40], "nice": false, "zero": false}, "axis": null},
"y": {"field": "h3", "type": "quantitative", "scale": {"domain": [-106, 36], "nice": false, "zero": false}, "axis": null},
"y2": {"field": "l3"}}},
{"data": {"name": "E3"}, "mark": {"type": "line", "color": "#000", "strokeWidth": 1.9},
"encoding": {"x": {"field": "t", "type": "quantitative", "scale": {"domain": [0, 40], "nice": false, "zero": false}, "axis": null},
"y": {"field": "v", "type": "quantitative", "scale": {"domain": [-106, 36], "nice": false, "zero": false}, "axis": null},
"detail": {"field": "k"}}},
{"data": {"values": [{"t":2.3,"v":7},{"t":2.45,"v":19.0},{"t":2.52,"v":-102.7},{"t":2.58,"v":19.0},{"t":3.38,"v":19.0},{"t":3.7,"v":14.9},{"t":4.4,"v":9}]},
"mark": {"type": "line", "color": "#000", "strokeWidth": 2.5},
"encoding": {"x": {"field": "t", "type": "quantitative", "scale": {"domain": [0, 40], "nice": false, "zero": false}, "axis": null},
"y": {"field": "v", "type": "quantitative", "scale": {"domain": [-106, 36], "nice": false, "zero": false}, "axis": null}}},
{"data": {"values": [{"t": 20.8, "v": 24.5, "label": "1Hz"}]},
"mark": {"type": "text", "color": "#222", "baseline": "middle", "align": "center", "fontSize": 20, "font": "Liberation Sans"},
"encoding": {"x": {"field": "t", "type": "quantitative", "scale": {"domain": [0, 40], "nice": false, "zero": false}, "axis": null},
"y": {"field": "v", "type": "quantitative", "scale": {"domain": [-106, 36], "nice": false, "zero": false}, "axis": null},
"text": {"field": "label"}}}
]
}
]
}
